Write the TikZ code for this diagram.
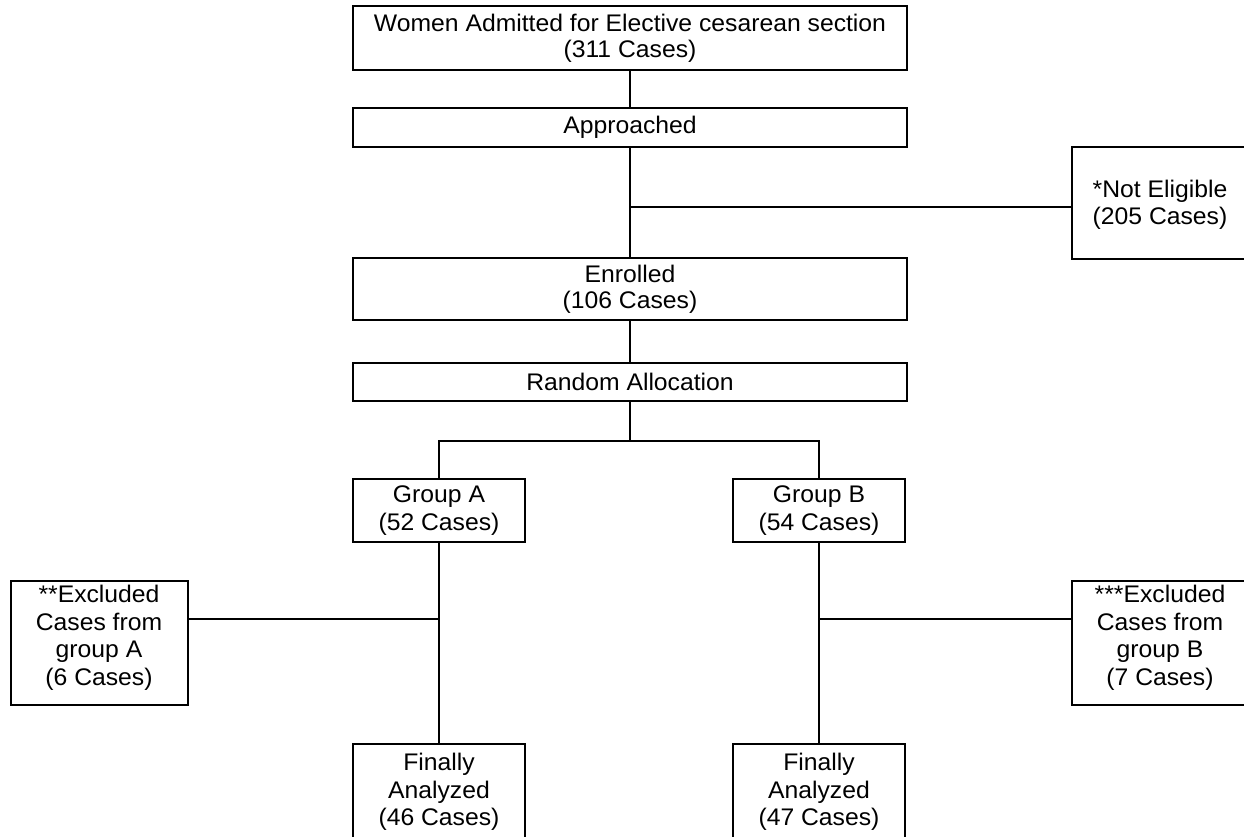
\documentclass[tikz,border=0pt]{standalone}
\usepackage{fontspec}
\setmainfont{Liberation Sans}[FakeStretch=1.03]
\usetikzlibrary{positioning}

\begin{document}
\begin{tikzpicture}
  [ x=1pt, y=-1pt,
    wide/.style={rectangle, draw=black, line width=2pt, minimum width=554pt, align=center,
                 inner sep=1pt, font=\fontsize{24}{26}\selectfont},
    grp/.style={rectangle, draw=black, line width=2pt, minimum width=172pt, align=center,
                inner sep=1pt, font=\fontsize{24}{28}\selectfont},
    side/.style={rectangle, draw=black, line width=2pt, minimum width=400pt},
    txt/.style={inner sep=0pt, align=center, font=\fontsize{24}{27.5}\selectfont},
    line/.style={-, line width=2pt, black}
  ]
  \useasboundingbox (0,0) rectangle (1244,837);
  \clip (0,0) rectangle (1244,837);

  \node[wide, minimum height=64pt] (admitted) at (630,38)
    {Women Admitted for Elective cesarean section\\(311 Cases)};
  \node[wide, minimum height=39pt] (approached) at (630,127.5) {Approached};
  \node[wide, minimum height=62pt] (enrolled) at (630,289) {Enrolled\\(106 Cases)};
  \node[wide, minimum height=38pt] (allocation) at (630,382) {Random Allocation};

  \node[side, minimum height=112pt] (noteligible) at (1272,203) {};
  \node[txt] (noteligibletext) at (1160,205) {*Not Eligible\\(205 Cases)};

  \node[grp, minimum height=63pt] (groupa) at (439,510.5) {Group A\\(52 Cases)};
  \node[grp, minimum height=63pt] (groupb) at (819,510.5) {Group B\\(54 Cases)};

  \node[grp, minimum height=120pt] (finala) at (439,804) {};
  \node[txt, below=10pt of finala.north] (finalatext) {Finally\\Analyzed\\(46 Cases)};
  \node[grp, minimum height=120pt] (finalb) at (819,804) {};
  \node[txt, below=10pt of finalb.north] (finalbtext) {Finally\\Analyzed\\(47 Cases)};

  \node[side, minimum width=177pt, minimum height=124pt] (excla) at (99,643) {};
  \node[txt, below=5pt of excla.north] (exclatext) {**Excluded\\Cases from\\group A\\(6 Cases)};
  \node[side, minimum height=124pt] (exclb) at (1272,643) {};
  \node[txt, below=5pt of exclb.north -| noteligibletext] (exclbtext) {***Excluded\\Cases from\\group B\\(7 Cases)};

  \coordinate (split1) at (630,207);
  \coordinate (split2) at (630,441);
  \coordinate (splita) at (439,619);
  \coordinate (splitb) at (819,619);

  \draw [line] (admitted.south) -- (approached.north);
  \draw [line] (approached.south) -- (enrolled.north);
  \draw [line] (split1) -- (split1 -| noteligible.west);
  \draw [line] (enrolled.south) -- (allocation.north);
  \draw [line] (allocation.south) -- (split2);
  \draw [line] (groupa.north) |- (split2) -| (groupb.north);
  \draw [line] (groupa.south) -- (finala.north);
  \draw [line] (groupb.south) -- (finalb.north);
  \draw [line] (splita) -- (splita -| excla.east);
  \draw [line] (splitb) -- (splitb -| exclb.west);
\end{tikzpicture}
\end{document}
